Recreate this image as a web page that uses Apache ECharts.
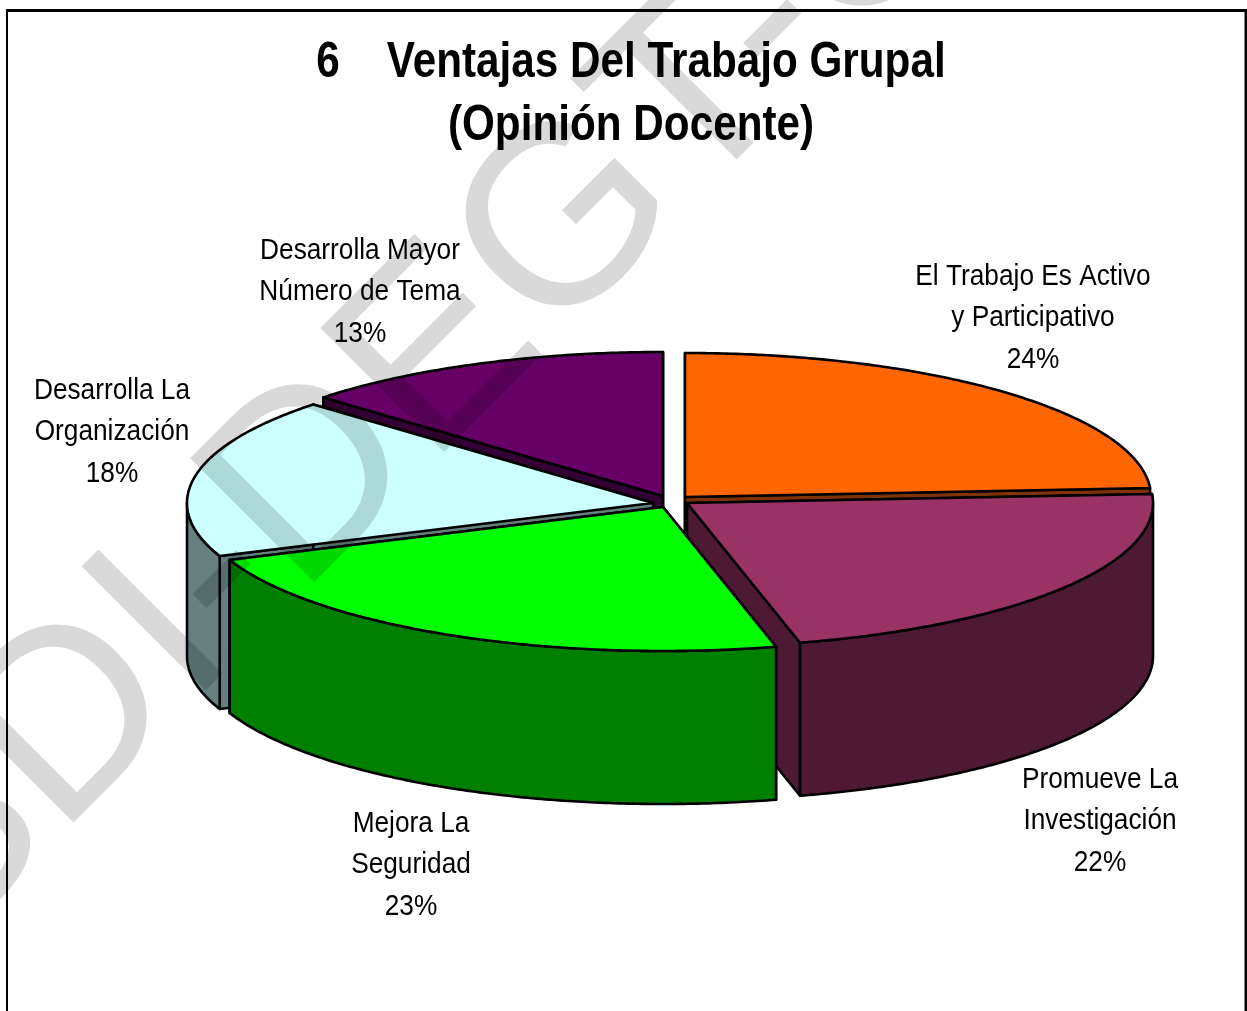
<!DOCTYPE html>
<html><head><meta charset="utf-8">
<style>html,body{margin:0;padding:0;background:#fff}#c{width:1247px;height:1011px}</style>
<script src="https://cdn.jsdelivr.net/npm/echarts@6/dist/echarts.min.js"></script>
</head><body><div id="c"></div>
<script>
var categories = ['El Trabajo Es Activo\ny Participativo','Promueve La\nInvestigación','Mejora La\nSeguridad','Desarrolla La\nOrganización','Desarrolla Mayor\nNúmero de Tema'];
var values = [24,22.1,22.9,18,13];
var topColors = ['#FF6600','#993366','#00FF00','#CCFFFF','#660066'];
var sideColors = ['#7F3300','#4D1933','#008000','#668080','#330033'];
var titleText = '6    Ventajas Del Trabajo Grupal\n(Opinión Docente)';
var watermarkText = 'SDI-DEGT-O';

// layout (not data)
var pie = {cx:670, cy:500, rx:466, ry:144, depth:153};
var explode = [[15,-3],[17,3],[-7,7],[-17,3],[-7,-4]];
var labelAt = [[1033,318],[1100,821],[411,865],[112,432],[360,292]];
var drawOrder = [0,4,3,1,2];
var FONT='"Liberation Sans",Arial,sans-serif';

var total = values.reduce(function(a,b){return a+b;},0);
function startFrac(i){var s=0;for(var k=0;k<i;k++)s+=values[k];return s/total;}
function pt(c,t,dz){return [c[0]+pie.rx*Math.sin(t), c[1]-pie.ry*Math.cos(t)+(dz||0)];}
function arc(c,a,b,dz){var n=Math.max(2,Math.ceil(Math.abs(b-a)/0.01)),o=[];
  for(var i=0;i<=n;i++)o.push(pt(c,a+(b-a)*i/n,dz));return o;}
var LW=2.6;
function poly(points,fill){return {type:'polygon',shape:{points:points},
  style:{fill:fill,stroke:'#000',lineWidth:LW,lineJoin:'round'}};}

function renderItem(params,api){
  var v=api.value(0), i=api.value(1);
  var t0=startFrac(i)*2*Math.PI, t1=t0+v/total*2*Math.PI;
  var c=[pie.cx+explode[i][0],pie.cy+explode[i][1]];
  var d=pie.depth, ch=[], side=sideColors[i];
  var cb=[c[0],c[1]+d];
  [t0,t1].forEach(function(t){
    var p=pt(c,t);
    ch.push(poly([c,p,[p[0],p[1]+d],cb],side));
  });
  var a=Math.max(t0,Math.PI/2), b=Math.min(t1,1.5*Math.PI);
  if(b>a){
    ch.push(poly(arc(c,a,b).concat(arc(c,b,a,d)),side));
  }
  ch.push(poly([c].concat(arc(c,t0,t1)),topColors[i]));
  ch.push({type:'text',x:labelAt[i][0],y:labelAt[i][1],scaleX:0.875,style:{
    text:categories[i]+'\n'+Math.round(v/total*100)+'%',
    x:0,y:0,align:'center',verticalAlign:'middle',
    fontFamily:FONT,fontSize:30,lineHeight:41.5,fill:'#000'}});
  return {type:'group',children:ch};
}

var chart=echarts.init(document.getElementById('c'),null,{renderer:'canvas'});
chart.setOption({
  animation:false,
  backgroundColor:'#fff',
  series:[{type:'custom',coordinateSystem:'none',silent:true,renderItem:renderItem,
    data:drawOrder.map(function(i){return [values[i],i];})}],
  graphic:[
    {type:'text',z:40,silent:true,x:631,y:95,scaleX:0.845,style:{text:titleText,x:0,y:0,align:'center',verticalAlign:'middle',
       fontFamily:FONT,fontWeight:'bold',fontSize:50,lineHeight:63,fill:'#000'}},
    {type:'line',z:50,silent:true,shape:{x1:6,y1:10.5,x2:1247,y2:10.5},style:{stroke:'#000',lineWidth:3}},
    {type:'line',z:50,silent:true,shape:{x1:7,y1:9,x2:7,y2:1011},style:{stroke:'#000',lineWidth:2}},
    {type:'line',z:50,silent:true,shape:{x1:1246,y1:9,x2:1246,y2:1011},style:{stroke:'#000',lineWidth:3}},
    {type:'text',z:100,silent:true,x:-21,y:998,rotation:Math.PI/4,
     style:{text:watermarkText,fontFamily:FONT,fontSize:255,
       fill:'rgba(0,0,0,0.15)',align:'left',verticalAlign:'bottom'}}
  ]
});
</script></body></html>
